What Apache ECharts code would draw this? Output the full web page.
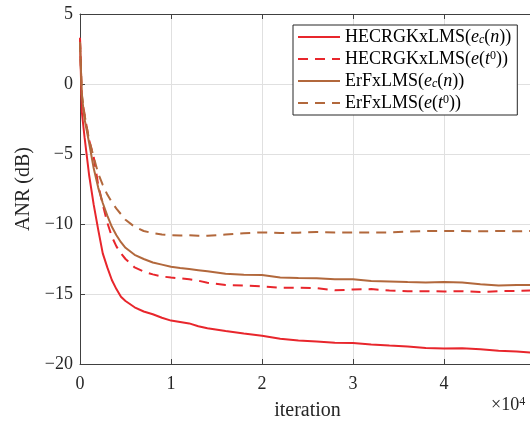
<!DOCTYPE html>
<html>
<head>
<meta charset="utf-8">
<script src="https://cdn.jsdelivr.net/npm/echarts@6/dist/echarts.min.js"></script>
<style>
  html, body { margin: 0; padding: 0; background: #fff; }
  #chart { width: 530px; height: 421px; }
</style>
</head>
<body>
<div id="chart"></div>
<script>
// Iteration index shared by all four learning curves
const iterations = [0, 200, 500, 1000, 1500, 2000, 2500, 3000, 3500, 4000, 4500, 5000,
  6000, 7000, 8000, 9000, 10000, 11000, 12000, 13000, 14000, 16000, 18000, 20000,
  22000, 24000, 26000, 28000, 30000, 32000, 34000, 36000, 38000, 40000, 42000,
  44000, 46000, 48000, 50000];

// ANR in dB for each algorithm / error signal
const hecrgkEc = [3.3, -2.0, -3.8, -6.5, -8.6, -10.4, -12.1, -13.1, -14.0, -14.65, -15.2, -15.5,
  -15.95, -16.25, -16.45, -16.7, -16.9, -17.0, -17.1, -17.3, -17.45, -17.65, -17.82, -17.98,
  -18.2, -18.32, -18.4, -18.48, -18.5, -18.6, -18.68, -18.75, -18.85, -18.9, -18.88,
  -18.95, -19.05, -19.1, -19.2];
const hecrgkEt0 = [3.2, -1.0, -2.2, -4.0, -5.2, -7.2, -8.6, -9.9, -10.9, -11.6, -12.1, -12.5,
  -13.1, -13.4, -13.6, -13.75, -13.82, -13.88, -13.95, -14.05, -14.2, -14.36, -14.4, -14.45,
  -14.55, -14.55, -14.58, -14.74, -14.68, -14.65, -14.75, -14.8, -14.8, -14.82, -14.8,
  -14.85, -14.8, -14.78, -14.75];
const erfxEc = [3.0, -0.8, -2.5, -4.2, -6.0, -7.4, -8.5, -9.4, -10.2, -10.8, -11.3, -11.7,
  -12.2, -12.5, -12.75, -12.9, -13.05, -13.15, -13.22, -13.3, -13.38, -13.55, -13.63, -13.65,
  -13.82, -13.85, -13.87, -13.95, -13.95, -14.08, -14.1, -14.15, -14.17, -14.15, -14.18,
  -14.3, -14.4, -14.35, -14.35];
const erfxEt0 = [3.0, -0.7, -2.2, -4.0, -5.2, -6.4, -7.2, -7.9, -8.45, -8.9, -9.3, -9.7,
  -10.2, -10.5, -10.65, -10.75, -10.8, -10.82, -10.8, -10.84, -10.84, -10.75, -10.66, -10.6,
  -10.64, -10.62, -10.57, -10.6, -10.6, -10.6, -10.6, -10.55, -10.5, -10.5, -10.5,
  -10.52, -10.5, -10.52, -10.5];

const seriesNames = ['HECRGKxLMS(e_c(n))', 'HECRGKxLMS(e(t^0))', 'ErFxLMS(e_c(n))', 'ErFxLMS(e(t^0))'];
const legendRich = {
  'HECRGKxLMS(e_c(n))': '{r|HECRGKxLMS(}{i|e}{sub|c}{r|(}{i|n}{r|))}',
  'HECRGKxLMS(e(t^0))': '{r|HECRGKxLMS(}{i|e}{r|(}{i|t}{sup|0}{r|))}',
  'ErFxLMS(e_c(n))': '{r|ErFxLMS(}{i|e}{sub|c}{r|(}{i|n}{r|))}',
  'ErFxLMS(e(t^0))': '{r|ErFxLMS(}{i|e}{r|(}{i|t}{sup|0}{r|))}'
};

const xTicks = [0, 1, 2, 3, 4, 5];
const yTicks = [-20, -15, -10, -5, 0, 5];

const RED = '#e8262c';
const BROWN = '#b2683c';
const FONT = 'Liberation Serif';
const INK = '#262626';

function pairs(vals) {
  return iterations.map((it, k) => [it, vals[k]]);
}
function minus(v) {
  return v < 0 ? '\u2212' + (-v) : String(v);
}

function lineSeries(name, vals, color, dashed) {
  return {
    name: name,
    type: 'line',
    data: pairs(vals),
    showSymbol: false,
    symbol: 'none',
    smooth: false,
    lineStyle: { color: color, width: 2, type: dashed ? [10, 7] : 'solid' },
    itemStyle: { color: color },
    emphasis: { disabled: true }
  };
}

const chart = echarts.init(document.getElementById('chart'), null, { renderer: 'canvas' });

const axisLine = { show: true, onZero: false, lineStyle: { color: '#404040', width: 1 } };
const tickIn = { show: true, inside: true, length: 5, lineStyle: { color: '#404040', width: 1 } };
const gridLine = { show: true, lineStyle: { color: '#e0e0e0', width: 1 } };

chart.setOption({
  animation: false,
  backgroundColor: '#fff',
  grid: { left: 80, top: 14, width: 455, height: 350, containLabel: false, outerBoundsMode: 'none' },
  xAxis: [
    {
      type: 'value', position: 'bottom', min: 0, max: 50000, interval: 10000,
      name: 'iteration', nameLocation: 'middle', nameGap: 37,
      nameTextStyle: { fontFamily: FONT, fontSize: 20, color: INK },
      axisLine: axisLine, axisTick: tickIn, splitLine: gridLine,
      axisLabel: {
        fontFamily: FONT, fontSize: 18, color: INK, margin: 11,
        showMinLabel: true, showMaxLabel: true, hideOverlap: false,
        formatter: v => String(xTicks[Math.round(v / 10000)])
      }
    },
    {
      type: 'value', position: 'top', min: 0, max: 50000, interval: 10000,
      axisLine: axisLine, axisTick: tickIn, splitLine: { show: false },
      axisLabel: { show: false }
    }
  ],
  yAxis: [
    {
      type: 'value', position: 'left', min: yTicks[0], max: yTicks[yTicks.length - 1], interval: 5,
      name: 'ANR (dB)', nameLocation: 'middle', nameGap: 42, nameRotate: 90,
      nameTextStyle: { fontFamily: FONT, fontSize: 20, color: INK },
      axisLine: axisLine, axisTick: tickIn, splitLine: gridLine,
      axisLabel: { fontFamily: FONT, fontSize: 18, color: INK, margin: 7, formatter: minus }
    },
    {
      type: 'value', position: 'right', min: -20, max: 5, interval: 5,
      axisLine: axisLine, axisTick: tickIn, splitLine: { show: false },
      axisLabel: { show: false }
    }
  ],
  legend: {
    orient: 'vertical', left: 293, top: 25,
    padding: [3, 6, 3, 4], itemGap: 4,
    itemWidth: 42, itemHeight: 14,
    backgroundColor: '#fff', borderColor: INK, borderWidth: 1, borderRadius: 0,
    data: seriesNames,
    selectedMode: false,
    itemStyle: { opacity: 0 },
    formatter: name => legendRich[name],
    textStyle: {
      color: '#000', fontFamily: FONT, fontSize: 18, lineHeight: 18,
      rich: {
        r: { fontFamily: FONT, fontSize: 18, color: '#000' },
        i: { fontFamily: FONT, fontSize: 18, fontStyle: 'italic', color: '#000' },
        sub: { fontFamily: FONT, fontSize: 12, fontStyle: 'italic', color: '#000', verticalAlign: 'bottom', padding: [6, 0, 0, 0] },
        sup: { fontFamily: FONT, fontSize: 12, color: '#000', verticalAlign: 'top', padding: [0, 0, 6, 0] }
      }
    }
  },
  graphic: [
    {
      type: 'text', left: 491, top: 396,
      style: {
        text: '{r|\u00d710}{sup|4}',
        rich: {
          r: { fontFamily: FONT, fontSize: 18, fill: INK },
          sup: { fontFamily: FONT, fontSize: 12, fill: INK, verticalAlign: 'top', padding: [0, 0, 6, 0] }
        }
      }
    }
  ],
  series: [
    lineSeries(seriesNames[0], hecrgkEc, RED, false),
    lineSeries(seriesNames[1], hecrgkEt0, RED, true),
    lineSeries(seriesNames[2], erfxEc, BROWN, false),
    lineSeries(seriesNames[3], erfxEt0, BROWN, true)
  ]
});
</script>
</body>
</html>
